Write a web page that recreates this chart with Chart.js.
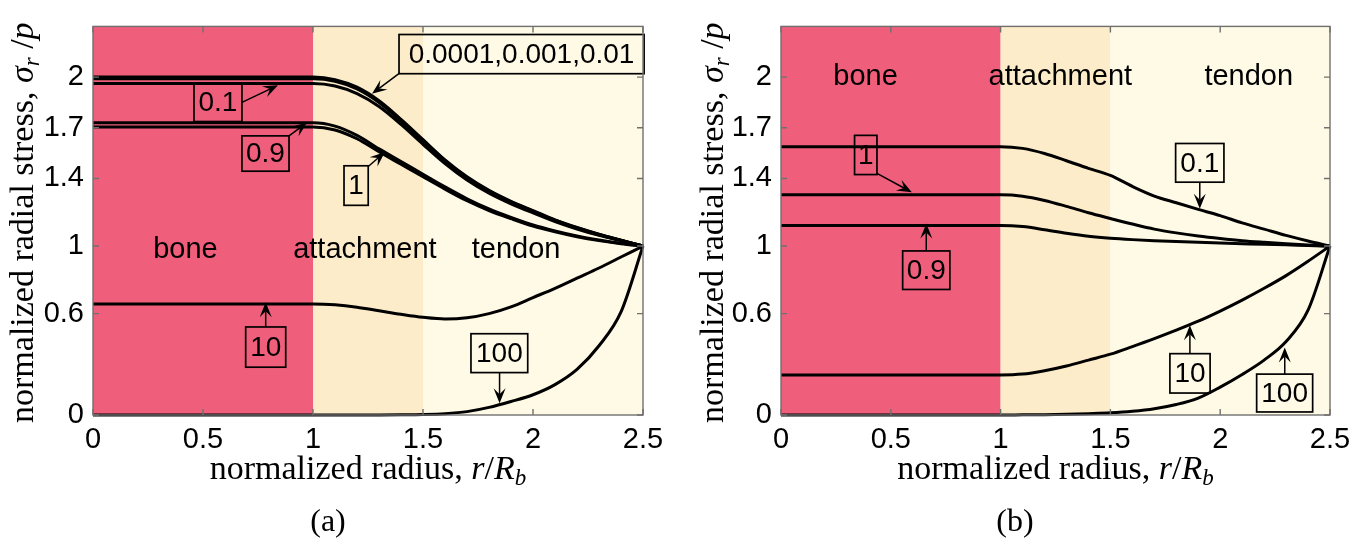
<!DOCTYPE html>
<html>
<head>
<meta charset="utf-8">
<script src="https://cdn.jsdelivr.net/npm/chart.js@4.4.0/dist/chart.umd.min.js"></script>
<style>
html, body { margin: 0; padding: 0; background: #fff; }
#wrap { position: relative; width: 1372px; height: 553px; }
.panel { position: absolute; top: 0; width: 686px; height: 553px; }
</style>
</head>
<body>
<div id="wrap">
  <div class="panel" style="left:0"><canvas id="chartA"></canvas></div>
  <div class="panel" style="left:686px"><canvas id="chartB"></canvas></div>
</div>
<script>
// shared axis data
const radius = [0, 0.5, 1.0, 1.1, 1.2, 1.3, 1.4, 1.5, 1.6, 1.7, 1.8, 1.9, 2.0, 2.1, 2.2, 2.3, 2.4, 2.5];
const xTicks = [0, 0.5, 1, 1.5, 2, 2.5];
const yTicks = [0, 0.6, 1, 1.4, 1.7, 2];
const regionNames = ['bone', 'attachment', 'tendon'];
const regionEdges = [0, 1, 1.5, 2.5];

// panel (a)
const stressA_0_0001 = [2.0, 2.0, 2.0, 1.985, 1.94, 1.86, 1.75, 1.63, 1.51, 1.41, 1.33, 1.265, 1.21, 1.155, 1.11, 1.07, 1.035, 1.0];
const stressA_0_001 = [1.995, 1.995, 1.995, 1.98, 1.935, 1.855, 1.745, 1.625, 1.506, 1.406, 1.326, 1.262, 1.207, 1.153, 1.108, 1.068, 1.034, 1.0];
const stressA_0_01 = [1.99, 1.99, 1.99, 1.975, 1.93, 1.85, 1.74, 1.62, 1.502, 1.402, 1.322, 1.259, 1.204, 1.15, 1.106, 1.067, 1.033, 1.0];
const stressA_0_1 = [1.962, 1.962, 1.962, 1.947, 1.902, 1.826, 1.72, 1.602, 1.488, 1.391, 1.313, 1.25, 1.196, 1.145, 1.101, 1.063, 1.031, 1.0];
const stressA_0_9 = [1.73, 1.73, 1.73, 1.71, 1.655, 1.575, 1.50, 1.425, 1.35, 1.28, 1.22, 1.17, 1.125, 1.09, 1.06, 1.036, 1.016, 1.0];
const stressA_1 = [1.705, 1.705, 1.705, 1.687, 1.635, 1.558, 1.484, 1.41, 1.337, 1.268, 1.21, 1.162, 1.118, 1.084, 1.055, 1.032, 1.014, 1.0];
const stressA_10 = [0.657, 0.657, 0.657, 0.652, 0.638, 0.617, 0.596, 0.578, 0.568, 0.575, 0.60, 0.64, 0.695, 0.75, 0.81, 0.87, 0.935, 1.0];
const stressA_100 = [0, 0, 0, 0, 0, 0, 0.001, 0.003, 0.008, 0.02, 0.045, 0.08, 0.12, 0.18, 0.27, 0.41, 0.61, 1.0];

// panel (b)
const stressB_0_1 = [1.588, 1.588, 1.588, 1.578, 1.548, 1.505, 1.46, 1.418, 1.353, 1.296, 1.256, 1.217, 1.18, 1.137, 1.10, 1.063, 1.03, 1.0];
const stressB_1 = [1.303, 1.303, 1.303, 1.295, 1.27, 1.235, 1.197, 1.163, 1.13, 1.10, 1.078, 1.06, 1.045, 1.032, 1.022, 1.013, 1.006, 1.0];
const stressB_0_9 = [1.121, 1.121, 1.121, 1.115, 1.097, 1.076, 1.058, 1.046, 1.038, 1.032, 1.027, 1.022, 1.018, 1.014, 1.01, 1.007, 1.003, 1.0];
const stressB_10 = [0.237, 0.237, 0.237, 0.242, 0.262, 0.29, 0.325, 0.36, 0.405, 0.452, 0.502, 0.555, 0.615, 0.68, 0.75, 0.825, 0.91, 1.0];
const stressB_100 = [0, 0, 0, 0.001, 0.002, 0.004, 0.008, 0.013, 0.022, 0.037, 0.062, 0.1, 0.165, 0.24, 0.325, 0.435, 0.62, 1.0];

const regionColors = ['#ef5f7b', '#fdecc9', '#fefae6'];
const sans = '"Liberation Sans", Arial, Helvetica, sans-serif';
const serif = '"Liberation Serif", "Times New Roman", serif';

// labelled boxes with arrows, in data units
const notesA = [
  { text: '0.0001,0.001,0.01', box: [1.391, 2.505, 2.252, 2.02], from: [1.395, 2.025], to: [1.268, 1.901] },
  { text: '0.1', box: [0.459, 0.677, 1.963, 1.737], from: [0.677, 1.85], to: [0.841, 1.952] },
  { text: '0.9', box: [0.677, 0.891, 1.652, 1.443], from: [0.891, 1.652], to: [0.973, 1.731] },
  { text: '1', box: [1.141, 1.251, 1.475, 1.241], from: [1.251, 1.471], to: [1.327, 1.556] },
  { text: '10', box: [0.694, 0.876, 0.521, 0.283], from: [0.785, 0.521], to: [0.785, 0.668] },
  { text: '100', box: [1.718, 1.976, 0.481, 0.251], from: [1.848, 0.251], to: [1.848, 0.07] }
];
const notesB = [
  { text: '1', box: [0.335, 0.437, 1.655, 1.423], from: [0.437, 1.43], to: [0.596, 1.318] },
  { text: '0.9', box: [0.554, 0.769, 0.971, 0.743], from: [0.6615, 0.971], to: [0.6615, 1.133] },
  { text: '0.1', box: [1.797, 2.017, 1.607, 1.378], from: [1.907, 1.378], to: [1.907, 1.22] },
  { text: '10', box: [1.771, 1.954, 0.363, 0.13], from: [1.862, 0.363], to: [1.862, 0.531] },
  { text: '100', box: [2.166, 2.421, 0.242, 0.018], from: [2.294, 0.242], to: [2.294, 0.40] }
];

const yTitle = [
  { t: 'normalized radial stress, ', f: '34px ' + serif },
  { t: '\u03C3', f: 'italic 34px ' + serif },
  { t: 'r', f: 'italic 23px ' + serif, dy: 6 },
  { t: ' /', f: '34px ' + serif },
  { t: 'p', f: 'italic 34px ' + serif }
];
const xTitle = [
  { t: 'normalized radius, ', f: '34px ' + serif },
  { t: 'r', f: 'italic 34px ' + serif },
  { t: '/', f: '34px ' + serif },
  { t: 'R', f: 'italic 34px ' + serif },
  { t: 'b', f: 'italic 23px ' + serif, dy: 6 }
];

function series(values) {
  return radius.map((r, i) => ({ x: r, y: values[i] }));
}

function drawRich(ctx, parts, cx, baseline) {
  let total = 0;
  parts.forEach(p => { ctx.font = p.f; total += ctx.measureText(p.t).width; });
  let x = cx - total / 2;
  ctx.textAlign = 'left';
  ctx.textBaseline = 'alphabetic';
  parts.forEach(p => {
    ctx.font = p.f;
    ctx.fillText(p.t, x, baseline + (p.dy || 0));
    x += ctx.measureText(p.t).width;
  });
}

function drawArrow(ctx, x0, y0, x1, y1) {
  const ang = Math.atan2(y1 - y0, x1 - x0);
  const c = Math.cos(ang), s = Math.sin(ang);
  const len = 15, half = 6;
  ctx.beginPath();
  ctx.moveTo(x0, y0);
  ctx.lineTo(x1 - c * len * 0.6, y1 - s * len * 0.6);
  ctx.stroke();
  ctx.beginPath();
  ctx.moveTo(x1, y1);
  ctx.lineTo(x1 - c * len - s * half, y1 - s * len + c * half);
  ctx.lineTo(x1 - c * len * 0.6, y1 - s * len * 0.6);
  ctx.lineTo(x1 - c * len + s * half, y1 - s * len - c * half);
  ctx.closePath();
  ctx.fill();
}

const decor = {
  id: 'decor',
  beforeDatasetsDraw(chart, args, opts) {
    const { ctx, chartArea: a, scales: { x } } = chart;
    ctx.save();
    for (let i = 0; i < regionNames.length; i++) {
      const l = x.getPixelForValue(regionEdges[i]);
      const r = x.getPixelForValue(regionEdges[i + 1]);
      ctx.fillStyle = regionColors[i];
      ctx.fillRect(l, a.top, r - l, a.bottom - a.top);
    }
    ctx.restore();
  },
  afterDatasetsDraw(chart, args, opts) {
    const { ctx, chartArea: a, scales: { x, y } } = chart;
    ctx.save();
    // region names
    ctx.fillStyle = '#000';
    ctx.font = '29px ' + sans;
    ctx.textAlign = 'center';
    ctx.textBaseline = 'middle';
    regionNames.forEach((name, i) => {
      ctx.fillText(name, x.getPixelForValue(opts.regionX[i]), y.getPixelForValue(opts.regionY));
    });
    // boxes + arrows
    opts.notes.forEach(n => {
      const l = x.getPixelForValue(n.box[0]), r = x.getPixelForValue(n.box[1]);
      const t = y.getPixelForValue(n.box[2]), b = y.getPixelForValue(n.box[3]);
      ctx.strokeStyle = '#000';
      ctx.lineWidth = 1.7;
      ctx.strokeRect(l, t, r - l, b - t);
      ctx.font = '28px ' + sans;
      ctx.fillText(n.text, (l + r) / 2, (t + b) / 2 + 1);
      ctx.lineWidth = 1.5;
      drawArrow(ctx, x.getPixelForValue(n.from[0]), y.getPixelForValue(n.from[1]),
        x.getPixelForValue(n.to[0]), y.getPixelForValue(n.to[1]));
    });
    // frame and inner tick marks
    ctx.strokeStyle = '#707070';
    ctx.lineWidth = 1.4;
    ctx.strokeRect(a.left, a.top, a.right - a.left, a.bottom - a.top);
    ctx.beginPath();
    yTicks.forEach(v => {
      const py = y.getPixelForValue(v);
      ctx.moveTo(a.left, py); ctx.lineTo(a.left + 6, py);
      ctx.moveTo(a.right, py); ctx.lineTo(a.right - 6, py);
    });
    xTicks.forEach(v => {
      const px = x.getPixelForValue(v);
      ctx.moveTo(px, a.bottom); ctx.lineTo(px, a.bottom - 6);
      ctx.moveTo(px, a.top); ctx.lineTo(px, a.top + 6);
    });
    ctx.stroke();
    ctx.restore();
  },
  afterDraw(chart, args, opts) {
    const { ctx, chartArea: a } = chart;
    ctx.save();
    ctx.fillStyle = '#000';
    ctx.translate(opts.yTitleX, (a.top + a.bottom) / 2 + 2);
    ctx.rotate(-Math.PI / 2);
    drawRich(ctx, yTitle, 0, 0);
    ctx.restore();
    ctx.save();
    ctx.fillStyle = '#000';
    drawRich(ctx, xTitle, (a.left + a.right) / 2, 479);
    ctx.font = '32px ' + serif;
    ctx.textAlign = 'center';
    ctx.textBaseline = 'alphabetic';
    ctx.fillText(opts.caption, opts.captionX, 531);
    ctx.restore();
  }
};

function makeChart(id, datasets, cfg) {
  return new Chart(document.getElementById(id), {
    type: 'line',
    data: {
      datasets: datasets.map(d => ({
        label: d.label,
        data: series(d.values),
        borderColor: '#000',
        borderWidth: 3,
        pointRadius: 0,
        cubicInterpolationMode: 'monotone',
        clip: false
      }))
    },
    options: {
      responsive: true,
      maintainAspectRatio: false,
      animation: false,
      layout: { padding: { top: cfg.top, right: cfg.right, left: 0, bottom: 0 } },
      plugins: {
        legend: { display: false },
        tooltip: { enabled: false },
        decor: cfg
      },
      scales: {
        x: {
          type: 'linear',
          min: 0,
          max: 2.5,
          afterBuildTicks: s => { s.ticks = xTicks.map(v => ({ value: v })); },
          afterFit: s => { s.height = 138; },
          grid: { display: false, drawTicks: false },
          border: { display: false },
          ticks: { font: { family: sans, size: 29 }, color: '#000', padding: 8, autoSkip: false, maxRotation: 0, callback: v => String(v) }
        },
        y: {
          type: 'linear',
          min: 0,
          max: 2.3,
          afterBuildTicks: s => { s.ticks = yTicks.map(v => ({ value: v })); },
          afterFit: s => { s.width = cfg.left; },
          grid: { display: false, drawTicks: false },
          border: { display: false },
          ticks: { font: { family: sans, size: 29 }, color: '#000', padding: 9, autoSkip: false, callback: v => String(v) }
        }
      }
    },
    plugins: [decor]
  });
}

makeChart('chartA', [
  { label: '100', values: stressA_100 },
  { label: '10', values: stressA_10 },
  { label: '1', values: stressA_1 },
  { label: '0.9', values: stressA_0_9 },
  { label: '0.1', values: stressA_0_1 },
  { label: '0.01', values: stressA_0_01 },
  { label: '0.001', values: stressA_0_001 },
  { label: '0.0001', values: stressA_0_0001 }
], {
  left: 93, right: 43, top: 8,
  notes: notesA,
  regionX: [0.42, 1.236, 1.923], regionY: 0.975,
  yTitleX: 33, caption: '(a)', captionX: 328
});

makeChart('chartB', [
  { label: '100', values: stressB_100 },
  { label: '10', values: stressB_10 },
  { label: '0.9', values: stressB_0_9 },
  { label: '1', values: stressB_1 },
  { label: '0.1', values: stressB_0_1 }
], {
  left: 95, right: 42, top: 3,
  notes: notesB,
  regionX: [0.385, 1.272, 2.13], regionY: 2.0,
  yTitleX: 37, caption: '(b)', captionX: 329
});
</script>
</body>
</html>
